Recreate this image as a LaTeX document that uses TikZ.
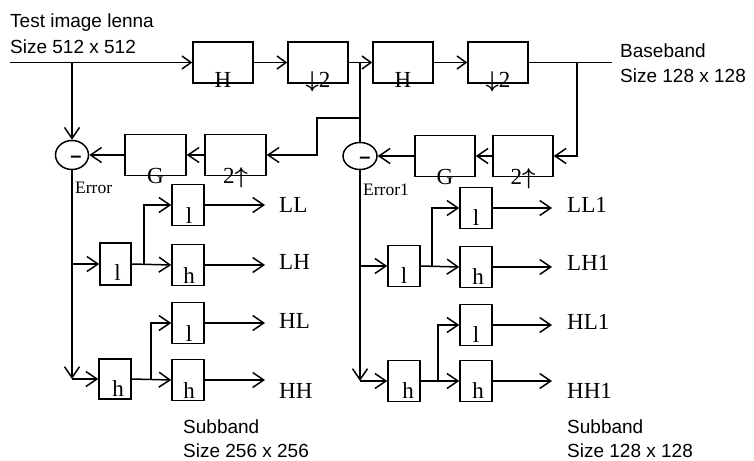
\RequirePackage{fix-cm}
\documentclass[tikz,border=0pt]{standalone}
\usepackage{amsmath}
\usepackage{fontspec}
\setmainfont{Liberation Serif}
\newfontfamily\sansf{Liberation Sans}
\usetikzlibrary{arrows.meta,shapes.geometric}
\tikzset{
  box/.style={draw,line width=1.5pt,inner sep=0pt,minimum width=60pt,minimum height=41pt},
  sbox/.style={draw,line width=1.5pt,inner sep=0pt,minimum width=32pt,minimum height=41pt},
  sumc/.style={draw,ellipse,line width=1.5pt,inner sep=0pt,minimum width=33pt,minimum height=29pt},
  wire/.style={line width=1.5pt},
  arr/.style={wire,-{Straight Barb[length=11pt,width=15pt,line width=1.5pt]}},
  sarr/.style={wire,-{Straight Barb[length=9pt,width=13pt,line width=1.5pt]}},
  blab/.style={anchor=base,inner sep=0pt,font=\fontsize{23}{25}\selectfont},
  olab/.style={anchor=base west,inner sep=0pt,font=\fontsize{23}{25}\selectfont},
  elab/.style={anchor=base west,inner sep=0pt,font=\fontsize{17.5}{19}\selectfont},
  slab/.style={anchor=base west,inner sep=0pt,font=\sansf\fontsize{19}{21}\selectfont},
  mlab/.style={inner sep=0pt,font=\sansf\bfseries\fontsize{20}{22}\selectfont},
}
\begin{document}
\begin{tikzpicture}[x=1pt,y=-1pt]
\fill[white] (0,0) rectangle (754,460);
\path[use as bounding box] (0,0) rectangle (754,460);

% ---- top row ----
\node[box] (H1)  at (223,62.5) {};
\node[box] (DS1) at (318,62.5) {};
\node[box] (H2)  at (403,62.5) {};
\node[box] (DS2) at (498,62.5) {};
\node[blab] at ([yshift=-4pt]H1.south)  {H};
\node[blab] at ([yshift=-4pt]DS1.south) {$\boldsymbol{\downarrow}$2};
\node[blab] at ([yshift=-4pt]H2.south)  {H};
\node[blab] at ([yshift=-4pt]DS2.south) {$\boldsymbol{\downarrow}$2};

% ---- second row ----
\node[box,minimum width=61pt] (G1)  at (155.5,155) {};
\node[box,minimum width=61pt] (US1) at (235.5,155) {};
\node[box] (G2)  at (445,156) {};
\node[box] (US2) at (523,156) {};
\node[blab] at ([yshift=-7pt]G1.south)  {G};
\node[blab] at ([yshift=-7pt]US1.south) {2$\boldsymbol{\uparrow}$};
\node[blab] at ([yshift=-7pt]G2.south)  {G};
\node[blab] at ([yshift=-7pt]US2.south) {2$\boldsymbol{\uparrow}$};

\node[sumc] (E1) at (72,155) {};
\node[sumc,minimum width=34pt,minimum height=27pt] (E2) at (360,156) {};
\node[mlab] at ([shift={(4,4)}]E1.center) {–};
\node[mlab] at ([shift={(5,4)}]E2.center) {–};
\node[elab] at (75,193) {Error};
\node[elab] at (363,195) {Error1};

% ---- left subband tree ----
\node[sbox,minimum width=31pt,minimum height=42pt] (A1) at (115.5,264) {};
\node[sbox] (A2) at (188,205) {};
\node[sbox] (A3) at (188,265) {};
\node[sbox,minimum height=40pt] (B1) at (115,379) {};
\node[sbox] (B2) at (188,323) {};
\node[sbox] (B3) at (188,380) {};
\node[blab] at ([shift={(2,-5)}]A1.south) {l};
\node[blab] at ([shift={(1,-3)}]A2.south) {l};
\node[blab] at ([shift={(1,-3)}]A3.south) {h};
\node[blab] at ([shift={(3,-3)}]B1.south) {h};
\node[blab] at ([shift={(1,-3)}]B2.south) {l};
\node[blab] at ([shift={(1,-3)}]B3.south) {h};

% ---- right subband tree ----
\node[sbox] (C1) at (404,266) {};
\node[sbox] (C2) at (476,208) {};
\node[sbox] (C3) at (476,267) {};
\node[sbox] (D1) at (404,381) {};
\node[sbox] (D2) at (476,325) {};
\node[sbox] (D3) at (476,381) {};
\node[blab] at ([shift={(0,-4)}]C1.south) {l};
\node[blab] at ([shift={(0,-4)}]C2.south) {l};
\node[blab] at ([shift={(2,-4)}]C3.south) {h};
\node[blab] at ([shift={(4,-4)}]D1.south) {h};
\node[blab] at ([shift={(0,-4)}]D2.south) {l};
\node[blab] at ([shift={(2,-4)}]D3.south) {h};

% ---- texts ----
\node[slab] at (10,28) {Test image lenna};
\node[slab] at (10,53) {Size 512 x 512};
\node[slab] at (620,58) {Baseband};
\node[slab] at (620,82) {Size 128 x 128};
\node[slab] at (183,433) {Subband};
\node[slab] at (183,457) {Size 256 x 256};
\node[slab] at (567,433) {Subband};
\node[slab] at (567,457) {Size 128 x 128};

\node[olab] at (279,212) {LL};
\node[olab] at (279,269) {LH};
\node[olab] at (279,328) {HL};
\node[olab] at (279,398) {HH};
\node[olab] at (567,212) {LL1};
\node[olab] at (567,270) {LH1};
\node[olab] at (567,329) {HL1};
\node[olab] at (567,398) {HH1};

% ---- coordinates ----
\coordinate (in) at (10,62.5);
\coordinate (j1) at (72,62.5);
\coordinate (j2) at (360,62.5);
\coordinate (j3) at (360,118);
\coordinate (j4) at (317,118);
\coordinate (j5) at (317,155);
\coordinate (out) at (612,62.5);
\coordinate (j6) at (577,62.5);
\coordinate (j7) at (577,156);
\coordinate (k1) at (72,379);
\coordinate (k2) at (72,264);
\coordinate (m1) at (144,264);
\coordinate (m2) at (151,379);
\coordinate (k3) at (360,381);
\coordinate (k4) at (360,266);
\coordinate (m3) at (432,266);
\coordinate (m4) at (438,381);
\coordinate (o1) at (265,205);
\coordinate (o2) at (265,265);
\coordinate (o3) at (265,323);
\coordinate (o4) at (265,380);
\coordinate (p1) at (552,208);
\coordinate (p2) at (552,267);
\coordinate (p3) at (552,325);
\coordinate (p4) at (552,381);

% ---- connectors: top ----
\draw[sarr] (in) -- (H1.west);
\draw[sarr] (H1.east) -- (DS1.west);
\draw[sarr] (DS1.east) -- (H2.west);
\draw[sarr] (H2.east) -- (DS2.west);
\draw[wire] (DS2.east) -- (out);
\draw[arr] (j1) -- (E1.north);
\draw[wire] (j2) -- (E2.north);
\draw[arr] (j3) -- (j4) -- (j5) -- (US1.east);
\draw[arr] (j6) -- (j7) -- (US2.east);
\draw[arr] (US1.west) -- (G1.east);
\draw[arr] (G1.west) -- (E1.east);
\draw[arr] (US2.west) -- (G2.east);
\draw[arr] (G2.west) -- (E2.east);

% ---- connectors: left tree ----
\draw[arr] (E1.south) -- (k1);
\draw[arr] (k1) -- (B1.west);
\draw[arr] (k2) -- (A1.west);
\draw[arr] (A1.east) -- (A3.west);
\draw[arr] (m1) |- (A2.west);
\draw[arr] (B1.east) -- (B3.west);
\draw[arr] (m2) |- (B2.west);
\draw[arr] (A2.east) -- (o1);
\draw[arr] (A3.east) -- (o2);
\draw[arr] (B2.east) -- (o3);
\draw[arr] (B3.east) -- (o4);

% ---- connectors: right tree ----
\draw[arr] (E2.south) -- (k3);
\draw[arr] (k3) -- (D1.west);
\draw[arr] (k4) -- (C1.west);
\draw[arr] (C1.east) -- (C3.west);
\draw[arr] (m3) |- (C2.west);
\draw[arr] (D1.east) -- (D3.west);
\draw[arr] (m4) |- (D2.west);
\draw[arr] (C2.east) -- (p1);
\draw[arr] (C3.east) -- (p2);
\draw[arr] (D2.east) -- (p3);
\draw[arr] (D3.east) -- (p4);
\end{tikzpicture}
\end{document}
